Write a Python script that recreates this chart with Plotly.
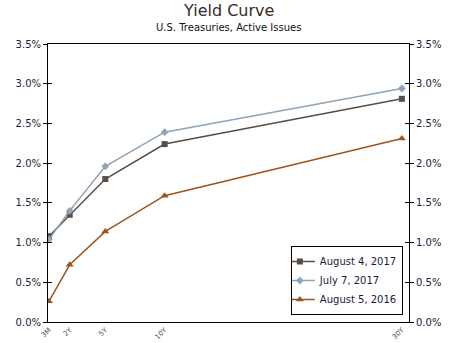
import plotly.graph_objects as go

# Maturities (years) and their tick labels
maturity_years = [0.25, 2, 5, 10, 30]
maturity_labels = ["3M", "2Y", "5Y", "10Y", "30Y"]

# Yields (%) for each curve date
yield_aug_4_2017 = [1.08, 1.35, 1.80, 2.24, 2.81]
yield_jul_7_2017 = [1.04, 1.40, 1.96, 2.39, 2.94]
yield_aug_5_2016 = [0.26, 0.72, 1.14, 1.59, 2.31]

y_ticks = [0.0, 0.5, 1.0, 1.5, 2.0, 2.5, 3.0, 3.5]
y_tick_text = [f"{v:.1f}%" for v in y_ticks]

FONT = "DejaVu Sans, Verdana, sans-serif"
TICK_COLOR = "#1c1c3a"

fig = go.Figure()
series = [
    ("August 4, 2017", yield_aug_4_2017, "#5b4c44", "square", 6),
    ("July 7, 2017", yield_jul_7_2017, "#8fa4b6", "diamond", 6),
    ("August 5, 2016", yield_aug_5_2016, "#9c5520", "triangle-up", 7),
]
for name, vals, color, sym, size in series:
    fig.add_trace(go.Scatter(
        x=maturity_years, y=vals, name=name, mode="lines+markers",
        line=dict(color=color, width=1.5),
        marker=dict(symbol=sym, size=size, color=color),
    ))

y_range = [0, 3.5]
x_range = [0.17, 30.6]

fig.update_layout(
    width=450, height=343,
    margin=dict(l=48, r=41, t=44, b=21, autoexpand=False),
    paper_bgcolor="white", plot_bgcolor="white",
    font=dict(family=FONT, size=10, color=TICK_COLOR),
    showlegend=True,
    legend=dict(
        x=0.983, xanchor="right", y=0.025, yanchor="bottom",
        bordercolor="black", borderwidth=1, bgcolor="white",
        font=dict(family=FONT, size=10, color="#1a1a40"),
        tracegroupgap=0, itemwidth=30, indentation=-12,
    ),
    xaxis=dict(
        range=x_range, tickmode="array", tickvals=maturity_years,
        ticktext=maturity_labels, tickangle=-45, ticks="",
        tickfont=dict(size=7, color="#555555"), automargin=False,
        showline=True, linecolor="black", linewidth=1, mirror=True,
        showgrid=False, zeroline=False,
    ),
    yaxis=dict(
        range=y_range, tickmode="array", tickvals=y_ticks, ticktext=y_tick_text,
        ticks="outside", ticklen=4, tickcolor="black", automargin=False,
        showline=True, linecolor="black", linewidth=1,
        showgrid=False, zeroline=False, side="left",
    ),
    yaxis2=dict(
        range=y_range, tickmode="array", tickvals=y_ticks, ticktext=y_tick_text,
        ticks="outside", ticklen=4, tickcolor="black", automargin=False,
        showline=True, linecolor="black", linewidth=1,
        showgrid=False, zeroline=False, side="right", overlaying="y",
    ),
    # inner halves of the crossing tick marks
    yaxis3=dict(
        range=y_range, tickmode="array", tickvals=y_ticks, showticklabels=False,
        ticks="inside", ticklen=4, tickcolor="black", showline=False,
        showgrid=False, zeroline=False, side="left", overlaying="y",
    ),
    yaxis4=dict(
        range=y_range, tickmode="array", tickvals=y_ticks, showticklabels=False,
        ticks="inside", ticklen=4, tickcolor="black", showline=False,
        showgrid=False, zeroline=False, side="right", overlaying="y",
    ),
    annotations=[
        dict(text="Yield Curve", x=0.5, y=1, xref="paper", yref="paper",
             xanchor="center", yanchor="bottom", yshift=22, showarrow=False,
             font=dict(family=FONT, size=16, color="#3a2a2a")),
        dict(text="U.S. Treasuries, Active Issues", x=0.5, y=1, xref="paper",
             yref="paper", xanchor="center", yanchor="bottom", yshift=9,
             showarrow=False, font=dict(family=FONT, size=10, color="#111111")),
    ],
)

# hidden helper traces so the secondary axes are drawn
for ax in ["y2", "y3", "y4"]:
    fig.add_trace(go.Scatter(x=[None], y=[None], yaxis=ax, showlegend=False,
                             hoverinfo="skip"))

fig.write_html("out.html")
